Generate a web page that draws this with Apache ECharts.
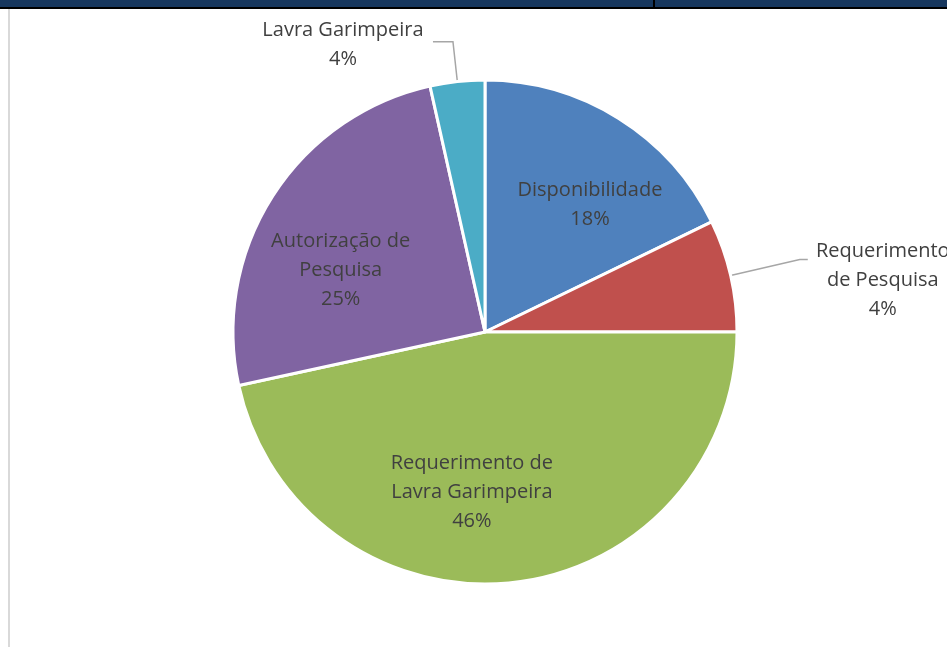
<!DOCTYPE html>
<html>
<head>
<meta charset="utf-8">
<script src="https://cdn.jsdelivr.net/npm/echarts@6/dist/echarts.min.js"></script>
<style>
  html, body { margin: 0; padding: 0; background: #fff; }
  #chart { width: 947px; height: 647px; }
</style>
</head>
<body>
<div id="chart"></div>
<script>
// slice sizes (degrees -> %), label text as printed
const categories = ['Disponibilidade', 'Requerimento de Pesquisa', 'Requerimento de Lavra Garimpeira', 'Autorização de Pesquisa', 'Lavra Garimpeira']
const labelNames = ['Disponibilidade', 'Requerimento\nde Pesquisa', 'Requerimento de\nLavra Garimpeira', 'Autorização de\nPesquisa', 'Lavra Garimpeira']
const values = [17.8, 7.2, 46.6, 24.9, 3.5]
const pctLabels = ['18%', '4%', '46%', '25%', '4%']
const colors = ['#4f81bd', '#c0504d', '#9bbb59', '#8064a2', '#4bacc6']

const CX = 485, CY = 332, R = 252
const font = '"Open Sans", Lato, sans-serif'
const FS = 20
// extra nudges for the inside labels, to sit where the original placed them
const insideNudge = { 0: [16, 15], 2: [-31, -6], 3: [-3, 29] }

function outsideLabel(i, len, len2, pad, boxW) {
  const lines = (labelNames[i] + '\n' + pctLabels[i]).split('\n')
  return {
    label: {
      position: 'outside',
      padding: pad,
      formatter: lines.map(l => '{c|' + l + '}').join('\n'),
      rich: { c: { width: boxW, align: 'center', fontSize: FS, lineHeight: 29, color: '#404040', fontFamily: font } }
    },
    labelLine: { show: true, length: len, length2: len2, lineStyle: { color: '#a6a6a6', width: 1.5 } }
  }
}

const data = categories.map((name, i) => {
  let item = { name, value: values[i], itemStyle: { color: colors[i] } }
  if (i === 1) Object.assign(item, outsideLabel(i, 71, 8, [42, 0, 0, 0], 140))
  else if (i === 4) Object.assign(item, outsideLabel(i, 40, 20, [7, 0, 0, 0], 170))
  else item.label = { position: 'inside', formatter: labelNames[i] + '\n' + pctLabels[i] }
  return item
})

const chart = echarts.init(document.getElementById('chart'))
chart.setOption({
  backgroundColor: '#fff',
  animation: false,
  graphic: [
    { type: 'rect', shape: { x: 0, y: 0, width: 947, height: 7 }, style: { fill: '#17375e' } },
    { type: 'rect', shape: { x: 0, y: 7, width: 947, height: 2 }, style: { fill: '#000' } },
    { type: 'rect', shape: { x: 653, y: 0, width: 2, height: 8 }, style: { fill: '#000' } },
    { type: 'rect', shape: { x: 8, y: 9, width: 2, height: 638 }, style: { fill: '#d9d9d9' } }
  ],
  series: [{
    type: 'pie',
    center: [CX, CY],
    radius: [0, R],
    startAngle: 90,
    clockwise: true,
    avoidLabelOverlap: false,
    itemStyle: { borderColor: '#fff', borderWidth: 3 },
    label: {
      show: true,
      fontSize: FS,
      lineHeight: 29,
      color: '#404040',
      fontFamily: font,
      align: 'center'
    },
    labelLine: { show: false },
    labelLayout: function (p) {
      if (p.labelLinePoints) return {}
      const lx = p.labelRect.x + p.labelRect.width / 2
      const ly = p.labelRect.y + p.labelRect.height / 2
      const n = insideNudge[p.dataIndex] || [0, 0]
      return { dx: (lx - CX) * 0.3 + n[0], dy: (ly - CY) * 0.3 + n[1] }
    },
    data
  }]
})
</script>
</body>
</html>
